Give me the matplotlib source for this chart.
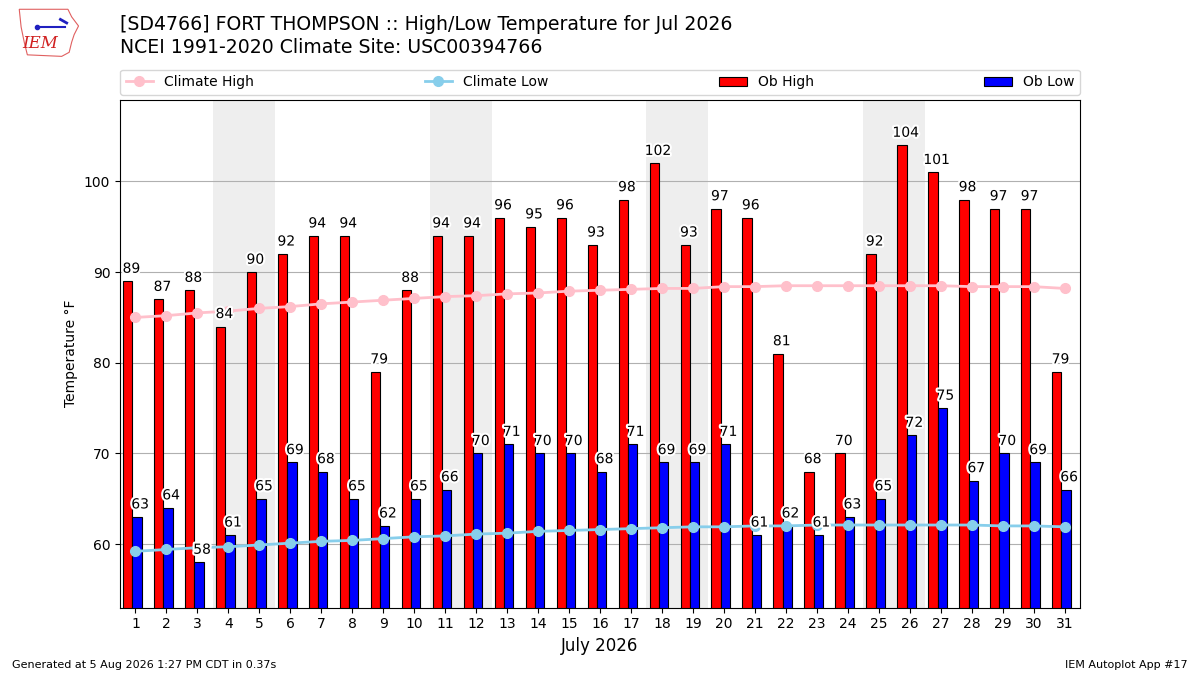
import matplotlib
matplotlib.use("Agg")
import matplotlib.pyplot as plt
import matplotlib.patheffects as pe
from matplotlib.patches import Polygon
import numpy as np

days = list(range(1, 32))
ob_high = [89, 87, 88, 84, 90, 92, 94, 94, 79, 88, 94, 94, 96, 95, 96, 93,
           98, 102, 93, 97, 96, 81, 68, 70, 92, 104, 101, 98, 97, 97, 79]
ob_low = [63, 64, 58, 61, 65, 69, 68, 65, 62, 65, 66, 70, 71, 70, 70, 68,
          71, 69, 69, 71, 61, 62, 61, 63, 65, 72, 75, 67, 70, 69, 66]
clim_high = [85.0, 85.2, 85.5, 85.7, 86.0, 86.2, 86.5, 86.7, 86.9, 87.1, 87.3,
             87.4, 87.6, 87.7, 87.9, 88.0, 88.1, 88.2, 88.2, 88.4, 88.4, 88.5,
             88.5, 88.5, 88.5, 88.5, 88.5, 88.4, 88.4, 88.4, 88.2]
clim_low = [59.2, 59.4, 59.6, 59.7, 59.9, 60.1, 60.3, 60.4, 60.6, 60.8, 60.9,
            61.1, 61.2, 61.4, 61.5, 61.6, 61.7, 61.8, 61.9, 61.9, 62.0, 62.0,
            62.1, 62.1, 62.1, 62.1, 62.1, 62.1, 62.0, 62.0, 61.9]
weekends = [(4, 5), (11, 12), (18, 19), (25, 26)]

title1 = "[SD4766] FORT THOMPSON :: High/Low Temperature for Jul 2026"
title2 = "NCEI 1991-2020 Climate Site: USC00394766"

fig = plt.figure(figsize=(12, 6.75), dpi=100)
ax = fig.add_axes([0.1, 0.1, 0.8, 0.752])

x = np.array(days)
for a, b in weekends:
    ax.axvspan(a - 0.5, b + 0.5, color="#EEEEEE", zorder=0, lw=0)

ax.bar(x - 0.4, ob_high, width=0.3, align="edge", color="red",
       edgecolor="k", lw=0.8, label="Ob High", zorder=2)
ax.bar(x - 0.1, ob_low, width=0.3, align="edge", color="blue",
       edgecolor="k", lw=0.8, label="Ob Low", zorder=2)
ax.plot(x, clim_high, color="pink", marker="o", lw=2, ms=7,
        label="Climate High", zorder=3)
ax.plot(x, clim_low, color="skyblue", marker="o", lw=2, ms=7,
        label="Climate Low", zorder=3)

effect = [pe.withStroke(linewidth=3, foreground="white")]
for d, h, l in zip(days, ob_high, ob_low):
    ax.text(d - 0.13, h + 0.6, f"{h}", ha="center", va="bottom", fontsize=10,
            zorder=4, path_effects=effect)
    ax.text(d + 0.15, l + 0.6, f"{l}", ha="center", va="bottom", fontsize=10,
            zorder=4, path_effects=effect)

ax.set_xlim(0.5, 31.5)
ax.set_ylim(53, 109)
ax.set_xticks(days)
ax.set_yticks([60, 70, 80, 90, 100])
ax.yaxis.grid(True, color="#b0b0b0", zorder=1)
ax.set_axisbelow(True)
ax.set_ylabel("Temperature \u00b0F")
ax.set_xlabel("July 2026", fontsize=12)

handles, labels = ax.get_legend_handles_labels()
order = ["Climate High", "Climate Low", "Ob High", "Ob Low"]
hd = dict(zip(labels, handles))
ax.legend([hd[k] for k in order], order, ncol=4, mode="expand",
          loc="lower left", bbox_to_anchor=(0, 1.01, 1, 0.05),
          borderaxespad=0, fontsize=10)

fig.text(0.1, 0.963, title1, fontsize=13.6, va="center", ha="left")
fig.text(0.1, 0.929, title2, fontsize=13.6, va="center", ha="left")

fig.text(0.01, 0.008, "Generated at 5 Aug 2026 1:27 PM CDT in 0.37s",
         fontsize=8, ha="left", va="bottom")
fig.text(0.99, 0.008, "IEM Autoplot App #17", fontsize=8, ha="right",
         va="bottom")

# simple logo
lax = fig.add_axes([0.015, 0.915, 0.052, 0.075])
lax.axis("off")
lax.set_xlim(0, 1)
lax.set_ylim(0, 1)
outline = [(0.02, 0.95), (0.8, 0.95), (0.86, 0.8), (0.97, 0.62), (0.9, 0.45),
           (0.86, 0.3), (0.82, 0.1), (0.7, 0.02), (0.15, 0.05), (0.1, 0.3),
           (0.05, 0.6)]
lax.add_patch(Polygon(outline, closed=True, fill=False, ec="#e06060", lw=0.8))
lax.text(0.35, 0.27, "IEM", color="#d02020", fontsize=12, style="italic",
         family="serif", ha="center", va="center")
lax.plot([0.3, 0.75], [0.6, 0.6], color="#2020c0", lw=1.5)
lax.plot([0.3], [0.6], "o", color="#2020c0", ms=3)
lax.plot([0.68, 0.78], [0.75, 0.68], color="#2020c0", lw=2)

fig.savefig("out.png", dpi=100)
